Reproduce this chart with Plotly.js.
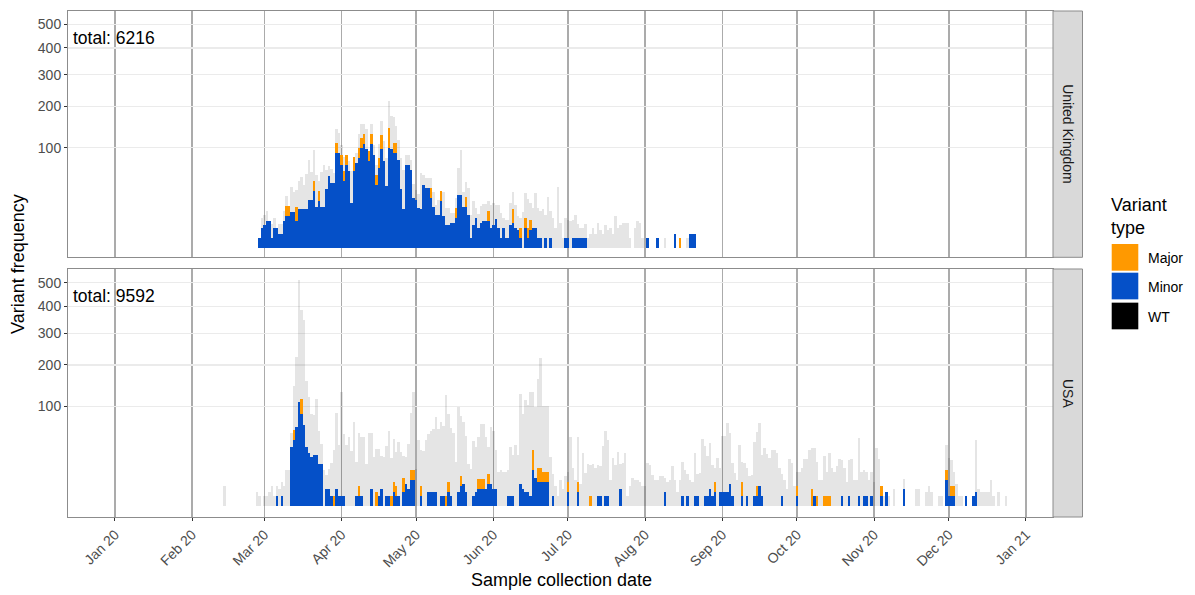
<!DOCTYPE html>
<html><head><meta charset="utf-8">
<script src="https://cdn.plot.ly/plotly-3.0.1.min.js"></script>
<style>html,body{margin:0;padding:0;background:#fff}#chart{width:1195px;height:595px}</style>
</head><body><div id="chart"></div>
<script>
// ---------------- DATA (daily counts) ----------------
const variantTypes = ['Major', 'Minor', 'WT'];
const countries = ['United Kingdom', 'USA'];
const totals = [6216, 9592];
const monthTicks = ['2020-01-01','2020-02-01','2020-03-01','2020-04-01','2020-05-01','2020-06-01','2020-07-01','2020-08-01','2020-09-01','2020-10-01','2020-11-01','2020-12-01','2021-01-01'];
const yTickValues = [100, 200, 300, 400, 500];

// United Kingdom, one entry per day starting 2020-02-28
const ukStart = '2020-02-28';
const ukMinor = [1,4,5,7,7,1,4,4,2,2,
 7,10,10,13,13,7,15,15,15,15,
 23,23,32,17,22,17,17,34,51,42,
 42,90,90,69,44,69,59,20,59,72,
 81,100,107,97,75,107,87,40,64,97,
 75,38,100,97,90,90,78,34,15,69,
 69,61,25,23,16,15,40,36,36,25,
 17,11,11,22,10,5,5,6,6,9,
 28,28,17,17,11,1,5,9,4,6,
 7,7,7,4,5,8,4,1,4,1,
 1,5,6,4,3,1,0,4,1,3,
 4,4,1,1,0,1,0,1,0,0,
 0,0,0,1,1,0,1,1,1,1,
 1,1,0,0,0,0,0,0,0,0,
 0,0,0,0,0,0,0,0,0,0,
 0,0,0,0,0,0,1,0,0,0,
 1,0,0,0,0,0,0,2,0,0,
 0,0,0,2,2,2];
const ukMajor = [0,0,0,0,0,0,0,0,0,0,
 0,1,1,0,0,2,0,0,0,0,
 0,0,1,0,1,0,0,0,0,0,
 0,1,0,1,1,1,0,0,2,0,
 1,1,1,0,1,1,0,1,1,2,
 0,0,4,0,1,1,0,0,0,0,
 0,0,0,0,0,0,0,0,0,1,
 0,0,0,1,0,0,0,0,0,1,
 0,0,0,1,0,0,0,0,0,0,
 0,0,1,0,0,0,0,0,0,0,
 0,0,2,0,0,1,0,1,1,1,
 0,0,0,0,0,0,0,0,0,0,
 0,0,0,0,0,0,0,0,0,0,
 0,0,0,0,0,0,0,0,0,0,
 0,0,0,0,0,0,0,0,0,0,
 0,0,0,0,0,0,0,0,0,0,
 0,0,0,0,0,0,0,0,0,1,
 0,0,0,0,0,0];
const ukWT = [0,1,1,1,0,2,1,0,1,1,
 1,1,0,6,4,3,8,10,6,12,
 16,8,10,10,1,12,17,4,1,2,
 1,2,4,1,2,0,1,10,0,1,
 2,2,1,4,0,1,1,1,2,2,
 4,8,7,11,7,3,4,10,15,1,
 1,1,2,1,2,13,1,1,1,1,
 2,1,2,0,6,3,3,1,1,1,
 7,20,2,2,7,5,6,1,2,3,
 3,3,1,5,5,2,5,6,1,3,
 3,5,3,5,2,1,13,6,8,3,
 4,12,9,7,15,5,26,7,9,4,
 37,6,1,4,3,7,3,5,2,1,
 1,2,1,2,4,2,6,3,2,5,
 3,4,2,10,4,5,6,6,6,1,
 0,4,7,6,1,0,0,0,0,0,
 0,0,0,1,0,0,0,0,0,0,
 0,0,1,0,0,0];

// USA, one entry per day starting 2020-02-14
const usStart = '2020-02-14';
const usMinor = [0,0,0,0,0,0,0,0,0,0,
 0,0,0,0,0,0,0,0,0,0,
 0,1,0,1,0,0,0,35,44,63,
 109,86,66,35,28,24,26,26,18,18,
 0,3,3,1,0,3,1,1,1,0,
 0,0,0,1,1,1,0,0,0,3,
 0,0,1,3,0,1,1,0,2,1,
 1,0,2,5,3,7,7,0,0,1,
 0,0,2,2,2,2,0,1,1,0,
 2,1,0,0,2,4,5,2,0,0,
 1,2,3,3,3,3,5,5,3,3,
 0,0,0,0,1,1,1,0,0,5,
 3,2,2,1,13,8,6,6,6,6,
 6,0,1,0,0,0,0,0,2,0,
 0,0,2,0,0,0,0,0,0,0,
 1,1,0,1,1,0,0,0,0,3,
 0,0,0,0,0,0,0,0,0,0,
 0,0,0,0,0,0,0,2,0,0,
 0,0,0,0,1,0,1,0,0,1,
 1,0,0,1,1,3,1,2,0,2,
 2,2,2,5,1,0,0,0,1,0,
 1,0,0,1,1,4,1,0,0,0,
 0,0,0,0,1,0,0,0,0,0,
 1,0,0,0,0,0,0,1,0,0,
 0,0,0,0,0,0,0,0,1,0,
 0,1,0,0,0,1,0,1,1,0,
 1,0,0,0,1,0,2,0,0,0,
 0,0,0,3,0,0,0,0,0,0,
 0,0,0,0,0,0,0,0,0,0,
 7,1,1,1,0,0,0,0,1,0,
 0,1,2,0,0,0,0,0,0,0,
 0,0,0,0,0];
const usMajor = [0,0,0,0,0,0,0,0,0,0,
 0,0,0,0,0,0,0,0,0,0,
 0,0,0,0,0,0,0,0,1,0,
 0,2,0,0,0,0,0,0,0,0,
 0,0,0,0,1,0,0,0,0,0,
 0,0,0,0,1,0,0,0,0,0,
 0,2,0,0,0,0,0,1,1,1,
 0,0,2,0,0,1,1,0,0,1,
 0,0,0,0,0,0,0,0,0,1,
 1,0,0,0,0,1,0,0,0,0,
 0,0,1,1,1,0,1,0,0,0,
 0,0,0,0,0,0,0,0,0,0,
 0,0,0,0,4,0,2,2,1,1,
 1,0,0,0,0,0,0,0,1,0,
 0,0,1,0,0,0,0,1,0,0,
 0,0,0,0,0,0,0,0,0,0,
 0,0,0,0,0,0,0,0,0,0,
 0,0,0,0,0,0,0,0,0,0,
 0,0,0,0,0,0,0,0,0,0,
 0,0,0,0,0,0,0,1,0,0,
 0,0,0,0,0,0,0,0,2,0,
 0,0,0,0,1,0,0,0,0,0,
 0,0,0,0,0,0,0,0,0,0,
 1,0,0,0,0,0,3,0,1,0,
 0,1,1,1,0,0,0,0,0,0,
 0,0,0,0,0,0,0,0,0,0,
 0,0,0,0,1,0,0,0,0,0,
 0,0,0,0,0,0,0,0,0,0,
 0,0,0,0,0,0,0,0,0,0,
 1,0,1,1,0,0,0,0,0,0,
 0,0,0,0,0,0,0,0,0,0,
 0,0,0,0,0];
const usWT = [4,0,0,0,0,0,0,0,0,0,
 0,0,0,2,1,0,1,1,2,4,
 1,1,3,2,4,13,13,2,19,49,
 148,81,110,44,32,19,16,32,11,4,
 13,2,4,11,21,58,26,109,39,37,
 48,31,71,12,28,35,48,18,53,31,
 24,19,22,11,24,25,42,15,19,12,
 30,29,5,7,20,32,61,14,44,13,
 31,44,34,38,40,56,60,55,50,102,
 47,46,53,20,72,36,39,32,18,14,
 31,20,18,30,30,27,7,32,34,15,
 12,13,12,12,7,24,17,37,26,81,
 56,85,76,108,34,51,78,121,44,44,
 44,24,5,4,1,7,3,9,1,48,
 15,7,20,5,28,11,18,10,18,15,
 10,9,36,42,32,7,23,17,30,6,
 19,28,1,4,8,7,7,6,4,4,
 19,17,10,7,7,9,9,2,6,7,
 16,7,2,7,12,13,5,7,6,19,
 5,11,45,25,16,21,10,2,23,6,
 32,32,48,26,11,11,7,38,4,19,
 8,9,10,30,30,40,17,34,27,23,
 32,32,28,15,5,7,3,22,19,4,
 2,12,15,22,22,32,17,23,12,7,
 7,16,6,19,15,12,16,22,13,15,
 6,13,22,7,7,34,12,7,6,7,
 6,6,34,22,0,1,0,1,0,3,
 0,0,0,1,0,0,0,0,3,3,
 0,0,2,4,2,0,0,1,1,0,
 6,15,7,2,5,1,1,0,0,0,
 0,0,27,3,2,2,2,2,7,1,
 0,2,0,0,1];

// ---------------- STYLE ----------------
const colors = {Major: '#FF9900', Minor: '#0550C8', WT: 'rgba(0,0,0,0.1)'};
const legendColors = {Major: '#FF9900', Minor: '#0550C8', WT: '#000000'};
const FONT = 'Liberation Sans, Arial, Helvetica, sans-serif';
const SMALL = 14, BIG = 18;

function dayDates(start, n) {
  const t0 = Date.parse(start + 'T00:00:00Z');
  const out = [];
  for (let i = 0; i < n; i++) out.push(new Date(t0 + i * 86400000).toISOString().slice(0, 10));
  return out;
}

// plot-area geometry in pixels
const L = 68, R = 1053, T = 10.7, B = 517.3;
const PX = x => (x - L) / (R - L);
const PY = y => (B - y) / (B - T);

function barTrace(name, dates, vals, xa, ya) {
  return {
    type: 'bar', name: name, x: dates, y: vals.map(v => Math.sqrt(v)),
    customdata: vals, hovertemplate: name + ': %{customdata}<extra></extra>',
    marker: {color: colors[name], line: {width: 0}},
    width: 86400000, xaxis: xa, yaxis: ya, showlegend: false
  };
}

const ukDates = dayDates(ukStart, ukMinor.length);
const usDates = dayDates(usStart, usMinor.length);

const data = [
  barTrace('Minor', ukDates, ukMinor, 'x', 'y'),
  barTrace('Major', ukDates, ukMajor, 'x', 'y'),
  barTrace('WT', ukDates, ukWT, 'x', 'y'),
  barTrace('Minor', usDates, usMinor, 'x2', 'y2'),
  barTrace('Major', usDates, usMajor, 'x2', 'y2'),
  barTrace('WT', usDates, usWT, 'x2', 'y2')
];

const xRange = ['2019-12-13 03:00', '2021-01-11 20:40'];
const xCommon = {
  type: 'date', range: xRange, tickvals: monthTicks, tickformat: '%b %y',
  showgrid: true, gridcolor: '#ababab', gridwidth: 1.5, zeroline: false,
  showline: true, mirror: true, linecolor: '#8c8c8c', linewidth: 1
};
const yCommon = {
  tickvals: yTickValues.map(v => Math.sqrt(v)), ticktext: yTickValues.map(String),
  showgrid: true, gridcolor: '#ebebeb', gridwidth: 1.2, zeroline: false,
  ticks: 'outside', ticklen: 3, tickcolor: '#333333', tickwidth: 1,
  tickfont: {family: FONT, size: SMALL, color: '#4d4d4d'},
  showline: true, mirror: true, linecolor: '#8c8c8c', linewidth: 1
};

const shapes = [];
const annotations = [];
// facet strips
const panelsPx = [[T, 257.3], [269, B]];
countries.forEach((c, i) => {
  const [y0, y1] = panelsPx[i];
  shapes.push({type: 'rect', xref: 'paper', yref: 'paper', x0: PX(1053), x1: PX(1082.5), y0: PY(y1), y1: PY(y0),
    fillcolor: '#d9d9d9', line: {color: '#8c8c8c', width: 1}});
  annotations.push({xref: 'paper', yref: 'paper', x: PX(1068), y: PY((y0 + y1) / 2), text: c, showarrow: false,
    textangle: 90, font: {family: FONT, size: SMALL, color: '#1a1a1a'}, xanchor: 'center', yanchor: 'middle'});
  annotations.push({xref: 'paper', yref: 'paper', x: PX(71), y: PY(y0 + 27.5), text: 'total: ' + totals[i], showarrow: false,
    xanchor: 'left', yanchor: 'middle', font: {family: FONT, size: 17.5, color: '#000000'}});
});
// axis titles
annotations.push({xref: 'paper', yref: 'paper', x: PX(18), y: PY(264), text: 'Variant frequency', showarrow: false,
  textangle: -90, xanchor: 'center', yanchor: 'middle', font: {family: FONT, size: BIG, color: '#000000'}});
annotations.push({xref: 'paper', yref: 'paper', x: PX(561), y: PY(580), text: 'Sample collection date', showarrow: false,
  xanchor: 'center', yanchor: 'middle', font: {family: FONT, size: BIG, color: '#000000'}});
// legend (drawn manually, ggplot style)
annotations.push({xref: 'paper', yref: 'paper', x: PX(1109), y: PY(216), text: 'Variant<br>type', showarrow: false,
  xanchor: 'left', yanchor: 'middle', align: 'left', font: {family: FONT, size: BIG, color: '#000000'}});
const keyTops = [244, 272.7, 302.7];
variantTypes.forEach((v, i) => {
  shapes.push({type: 'rect', xref: 'paper', yref: 'paper', x0: PX(1111.7), x1: PX(1138.3), y0: PY(keyTops[i] + 26.7), y1: PY(keyTops[i]),
    fillcolor: legendColors[v], line: {width: 0}});
  annotations.push({xref: 'paper', yref: 'paper', x: PX(1146), y: PY(keyTops[i] + 14), text: v, showarrow: false,
    xanchor: 'left', yanchor: 'middle', font: {family: FONT, size: SMALL, color: '#000000'}});
});

const layout = {
  width: 1195, height: 595,
  margin: {l: L, r: 1195 - R, t: T, b: 595 - B, autoexpand: false},
  paper_bgcolor: '#ffffff', plot_bgcolor: '#ffffff',
  barmode: 'stack', bargap: 0,
  showlegend: false,
  font: {family: FONT},
  xaxis: Object.assign({}, xCommon, {anchor: 'y', matches: 'x2', showticklabels: false, ticks: ''}),
  xaxis2: Object.assign({}, xCommon, {anchor: 'y2', showticklabels: true, ticks: 'outside', ticklen: 3,
    tickcolor: '#333333', tickangle: -45, tickfont: {family: FONT, size: SMALL, color: '#4d4d4d'}}),
  yaxis: Object.assign({}, yCommon, {domain: [PY(257.3), 1], range: [-0.96, 23.7], anchor: 'x'}),
  yaxis2: Object.assign({}, yCommon, {domain: [0, PY(269)], range: [-1.08, 23.75], anchor: 'x2'}),
  shapes: shapes, annotations: annotations
};

Plotly.newPlot('chart', data, layout, {displayModeBar: false, staticPlot: true});
</script>
</body></html>
